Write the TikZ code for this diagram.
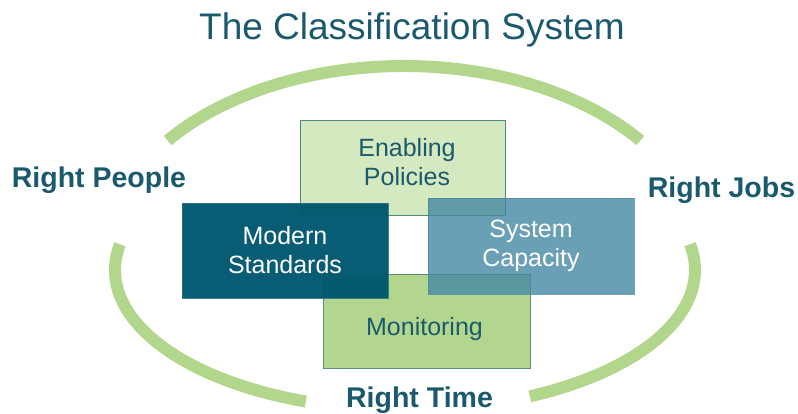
\documentclass[tikz,border=0pt]{standalone}
\usepackage{fontspec}
\setmainfont{Liberation Sans}
\definecolor{arcgreen}{HTML}{B2D78C}
\definecolor{teal}{HTML}{1B5A6D}
\definecolor{epfill}{HTML}{D5E9C0}
\definecolor{epdraw}{HTML}{4E8A84}
\definecolor{msfill}{HTML}{00576F}
\definecolor{msdraw}{HTML}{2E7389}
\definecolor{scfill}{HTML}{4588A2}
\definecolor{scdraw}{HTML}{4A8AA2}
\definecolor{mofill}{HTML}{B3D68E}
\definecolor{modraw}{HTML}{5C8F78}
\tikzset{
  arcline/.style={draw=arcgreen, line width=12pt, line cap=butt},
  box/.style={rectangle, inner sep=0pt, line width=0.8pt, align=center,
    font=\fontsize{25}{29}\selectfont},
  side/.style={text=teal, font=\fontsize{28.5}{32}\selectfont\bfseries, anchor=base, inner sep=0pt},
  boxtext/.style={inner sep=0pt, align=center, font=\fontsize{25}{29}\selectfont}
}
\begin{document}
\begin{tikzpicture}[x=1pt, y=1pt]
\useasboundingbox (0,0) rectangle (798,414);
% title
\node[text=teal, font=\fontsize{37}{40}\selectfont, anchor=base, inner sep=0pt] (title) at (412,374) {The Classification System};
% arcs
\draw[arcline] ([shift={(38:300 and 194)}]404,154) arc[start angle=38, end angle=142, x radius=300, y radius=194];
\draw[arcline] ([shift={(169.4:290 and 140)}]405,144) arc[start angle=169.4, end angle=250, x radius=290, y radius=140];
\draw[arcline] ([shift={(-64.5:290 and 140)}]405,144) arc[start angle=-64.5, end angle=10.6, x radius=290, y radius=140];
% side labels
\node[side] (people) at (99,226) {Right People};
\node[side] (jobs) at (721.5,216) {Right Jobs};
\node[side] (time) at (419.5,6) {Right Time};
% boxes
\node[box, fill=epfill, draw=epdraw, minimum width=205, minimum height=95] (ep) at (402.5,246.5) {};
\node[boxtext, text=teal] (eptext) at (407,251.5) {Enabling\\Policies};
\node[box, fill=mofill, draw=modraw, minimum width=207, minimum height=94] (mo) at (426.5,93) {};
\node[boxtext, text=teal, anchor=base] (motext) at (424.5,78) {Monitoring};
\node[box, fill=msfill, draw=msdraw, fill opacity=0.97, draw opacity=0.9, text opacity=1, text=white, minimum width=206, minimum height=95] (ms) at (285,163.5) {Modern\\Standards};
\node[box, fill=scfill, draw=scdraw, fill opacity=0.8, draw opacity=0.8, text opacity=1, text=white, minimum width=206, minimum height=96] (sc) at (531,168) {System\\Capacity};
\end{tikzpicture}
\end{document}
